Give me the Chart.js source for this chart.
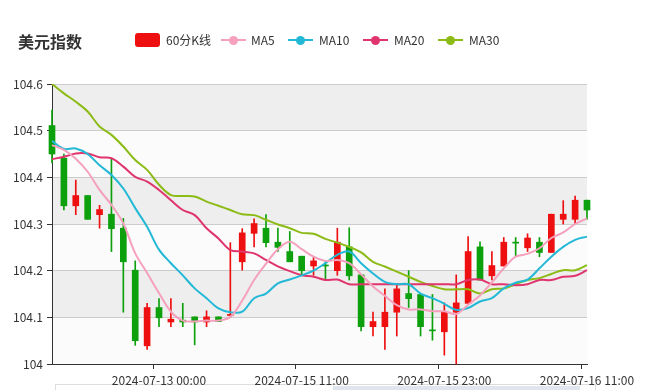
<!DOCTYPE html>
<html>
<head>
<meta charset="utf-8">
<script src="https://cdn.jsdelivr.net/npm/chart.js@4"></script>
<style>
  body { margin: 0; background: #fff; }
  #wrap { position: relative; width: 646px; height: 390px; font-family: "Microsoft YaHei", "Noto Sans CJK SC", sans-serif; color: #333; }
  #chart { position: absolute; left: 0; top: 0; }
  .title { position: absolute; left: 18px; top: 30px; font-size: 16px; font-weight: bold; line-height: 22px; }
  .lg { position: absolute; top: 33px; font-size: 12px; line-height: 14px; color: #333; }
  .box { position: absolute; top: 33px; width: 25px; height: 14px; border-radius: 3px; }
  .ico { position: absolute; top: 33px; width: 25px; height: 14px; }
  .ico i { position: absolute; left: 0; top: 6px; width: 25px; height: 2px; }
  .ico b { position: absolute; left: 8px; top: 3px; width: 9px; height: 9px; border-radius: 50%; }
</style>
</head>
<body>
<div id="wrap">
  <canvas id="chart" width="646" height="390"></canvas>
  <div class="title">美元指数</div>
  <div id="legend"></div>
</div>
<script>
const labels = [
  "2024-07-12 15:00", "2024-07-12 16:00", "2024-07-12 17:00", "2024-07-12 18:00", "2024-07-12 19:00",
  "2024-07-12 20:00", "2024-07-12 21:00", "2024-07-12 22:00", "2024-07-12 23:00", "2024-07-13 00:00",
  "2024-07-15 00:00", "2024-07-15 01:00", "2024-07-15 02:00", "2024-07-15 03:00", "2024-07-15 04:00",
  "2024-07-15 05:00", "2024-07-15 06:00", "2024-07-15 07:00", "2024-07-15 08:00", "2024-07-15 09:00",
  "2024-07-15 10:00", "2024-07-15 11:00", "2024-07-15 12:00", "2024-07-15 13:00", "2024-07-15 14:00",
  "2024-07-15 15:00", "2024-07-15 16:00", "2024-07-15 17:00", "2024-07-15 18:00", "2024-07-15 19:00",
  "2024-07-15 20:00", "2024-07-15 21:00", "2024-07-15 22:00", "2024-07-15 23:00", "2024-07-16 00:00",
  "2024-07-16 01:00", "2024-07-16 02:00", "2024-07-16 03:00", "2024-07-16 04:00", "2024-07-16 05:00",
  "2024-07-16 06:00", "2024-07-16 07:00", "2024-07-16 08:00", "2024-07-16 09:00", "2024-07-16 10:00",
  "2024-07-16 11:00"
]
const shownTicks = ["2024-07-13 00:00", "2024-07-15 11:00", "2024-07-15 23:00", "2024-07-16 11:00"]

const open = [104.511,104.441,104.339,104.361,104.320,104.321,104.291,104.201,104.039,104.121,104.090,104.094,104.101,104.090,104.101,104.104,104.219,104.280,104.291,104.261,104.241,104.231,104.210,104.212,104.200,104.251,104.191,104.080,104.080,104.111,104.151,104.149,104.073,104.069,104.111,104.130,104.251,104.189,104.210,104.261,104.249,104.261,104.239,104.310,104.310,104.351]
const close = [104.450,104.339,104.361,104.310,104.331,104.290,104.219,104.050,104.121,104.099,104.096,104.090,104.090,104.101,104.091,104.106,104.281,104.301,104.260,104.250,104.219,104.200,104.221,104.210,104.261,104.189,104.080,104.091,104.111,104.161,104.140,104.080,104.071,104.111,104.131,104.241,104.180,104.211,104.261,104.259,104.270,104.239,104.321,104.321,104.351,104.330]
const high = [104.544,104.450,104.394,104.361,104.340,104.440,104.312,104.221,104.130,104.140,104.140,104.130,104.101,104.114,104.101,104.260,104.290,104.311,104.320,104.291,104.284,104.231,104.230,104.221,104.291,104.292,104.191,104.111,104.161,104.169,104.200,104.149,104.149,104.131,104.191,104.273,104.262,104.241,104.271,104.271,104.279,104.271,104.321,104.350,104.360,104.351]
const low = [104.431,104.330,104.320,104.310,104.291,104.241,104.111,104.040,104.031,104.080,104.080,104.080,104.041,104.080,104.091,104.104,104.201,104.251,104.251,104.241,104.219,104.190,104.190,104.180,104.190,104.180,104.071,104.060,104.031,104.060,104.121,104.060,104.051,104.019,104.000,104.130,104.180,104.180,104.210,104.230,104.241,104.230,104.239,104.300,104.300,104.310]

const ma5 = [104.469,104.459,104.440,104.412,104.373,104.341,104.301,104.237,104.195,104.152,104.112,104.093,104.091,104.093,104.093,104.101,104.136,104.180,104.215,104.246,104.262,104.246,104.230,104.221,104.223,104.216,104.192,104.166,104.146,104.126,104.117,104.117,104.113,104.113,104.107,104.127,104.147,104.175,104.205,104.230,104.236,104.248,104.270,104.282,104.300,104.312]
const ma10 = [104.478,104.461,104.462,104.450,104.426,104.405,104.376,104.334,104.294,104.245,104.216,104.190,104.162,104.141,104.119,104.111,104.112,104.141,104.151,104.173,104.181,104.190,104.200,104.216,104.234,104.241,104.216,104.194,104.176,104.171,104.171,104.151,104.141,104.129,104.116,104.120,104.134,104.141,104.162,104.174,104.181,104.205,104.230,104.251,104.266,104.273]
const ma20 = [104.439,104.444,104.451,104.451,104.443,104.441,104.423,104.401,104.391,104.373,104.351,104.330,104.319,104.291,104.269,104.244,104.241,104.237,104.223,104.209,104.199,104.190,104.187,104.180,104.181,104.171,104.171,104.171,104.171,104.171,104.171,104.171,104.171,104.171,104.171,104.180,104.181,104.171,104.171,104.169,104.171,104.180,104.180,104.187,104.189,104.201]
const ma30 = [104.600,104.580,104.562,104.541,104.509,104.491,104.466,104.437,104.416,104.384,104.362,104.360,104.359,104.348,104.339,104.330,104.321,104.319,104.309,104.299,104.291,104.281,104.279,104.268,104.260,104.251,104.239,104.219,104.209,104.198,104.187,104.176,104.167,104.160,104.160,104.160,104.151,104.160,104.162,104.171,104.180,104.184,104.193,104.201,104.201,104.212]

const upColor = "#ee1010"
const downColor = "#0ca00c"
const lineColors = { MA5: "#f5a1bd", MA10: "#22b8d6", MA20: "#e0356c", MA30: "#8cbb16" }

const candleColors = open.map((o, i) => (close[i] >= o ? upColor : downColor))
const bodies = open.map((o, i) => [Math.min(o, close[i]), Math.max(o, close[i])])
const wicks = low.map((l, i) => [l, high[i]])

// legend (html)
const legend = document.getElementById("legend")
legend.innerHTML =
  '<div class="box" style="left:135px;background:' + upColor + '"></div>' +
  '<div class="lg" style="left:166px">60分K线</div>' +
  [["MA5", 221, 251], ["MA10", 288, 319], ["MA20", 363, 394], ["MA30", 438, 469]].map(([n, x, tx]) =>
    '<div class="ico" style="left:' + x + 'px"><i style="background:' + lineColors[n] + '"></i><b style="background:' + lineColors[n] + '"></b></div>' +
    '<div class="lg" style="left:' + tx + 'px">' + n + '</div>'
  ).join("")

const bands = {
  id: "bands",
  beforeDraw(chart) {
    const { ctx, chartArea: a, scales: { y } } = chart
    const edges = [104.6, 104.5, 104.4, 104.3, 104.2, 104.1, 104.0]
    ctx.save()
    for (let i = 0; i < edges.length - 1; i++) {
      const t = y.getPixelForValue(edges[i])
      const b = y.getPixelForValue(edges[i + 1])
      ctx.fillStyle = i % 2 === 0 ? "#eeeeee" : "#fbfbfb"
      ctx.fillRect(a.left, t, a.right - a.left, b - t)
    }
    // slider strip at the bottom, mostly cut off
    ctx.strokeStyle = "#dddddd"
    ctx.lineWidth = 1
    ctx.strokeRect(55.5, 384.5, 540, 20)
    ctx.fillStyle = "rgba(167,183,204,0.35)"
    ctx.fillRect(333, 386, 247, 10)
    ctx.restore()
  },
}

const lineDs = (name, data) => ({
  type: "line",
  label: name,
  data: data,
  borderColor: lineColors[name],
  borderWidth: 2,
  pointRadius: 0,
  tension: 0.35,
  order: 0,
})

Chart.defaults.font.family = '"Microsoft YaHei", "Noto Sans CJK SC", sans-serif'
Chart.defaults.font.size = 12
Chart.defaults.color = "#333"

new Chart(document.getElementById("chart"), {
  data: {
    labels: labels,
    datasets: [
      lineDs("MA5", ma5),
      lineDs("MA10", ma10),
      lineDs("MA20", ma20),
      lineDs("MA30", ma30),
      {
        type: "bar",
        label: "60分K线",
        data: bodies,
        backgroundColor: candleColors,
        barThickness: 6,
        minBarLength: 1,
        grouped: false,
        clip: false,
        order: 1,
      },
      {
        type: "bar",
        label: "wick",
        data: wicks,
        backgroundColor: candleColors,
        barThickness: 1,
        grouped: false,
        clip: false,
        order: 2,
      },
    ],
  },
  options: {
    responsive: false,
    devicePixelRatio: 1,
    animation: false,
    layout: { padding: { left: 0, top: 84, right: 59, bottom: 0 } },
    plugins: { legend: { display: false }, tooltip: { enabled: false } },
    scales: {
      x: {
        type: "category",
        offset: false,
        border: { color: "#333", width: 1 },
        grid: {
          drawOnChartArea: false,
          tickLength: 5,
          color: (c) => (c.tick && shownTicks.includes(c.tick.label) ? "#333" : "rgba(0,0,0,0)"),
        },
        ticks: {
          autoSkip: false,
          maxRotation: 0,
          padding: 4,
          callback: function (v, i) {
            const l = labels[i]
            return shownTicks.includes(l) ? l : ""
          },
        },
        afterFit: (s) => { s.height = 26 },
      },
      y: {
        min: 104,
        max: 104.6,
        border: { color: "#333", width: 1 },
        grid: { color: "#cccccc", tickColor: "#333", tickLength: 5 },
        ticks: {
          stepSize: 0.1,
          padding: 4,
          callback: (v) => String(+v.toFixed(1)),
        },
        afterFit: (s) => { s.width = 52 },
      },
    },
  },
  plugins: [bands],
})
</script>
</body>
</html>
